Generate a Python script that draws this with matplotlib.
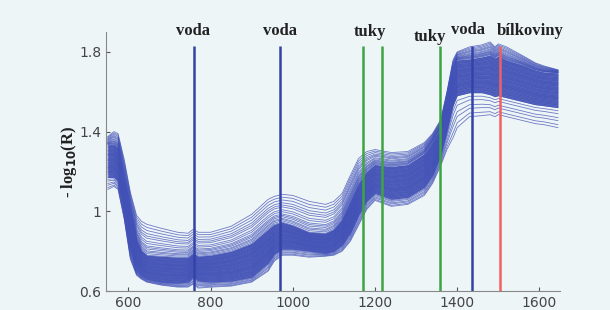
import numpy as np
import matplotlib
matplotlib.use('Agg')
import matplotlib.pyplot as plt

# vlnove delky (nm) a ctyri odectene krivky: nejnizsi, spodek a vrsek husteho pasu, nejvyssi
lam = [550, 565, 575, 590, 605, 620, 632, 645, 680, 720, 745, 758, 770, 800, 850, 900,
       940, 955, 975, 1000, 1040, 1080, 1100, 1120, 1140, 1160, 1180, 1200, 1240, 1280,
       1320, 1340, 1360, 1375, 1390, 1400, 1430, 1460, 1480, 1492, 1500, 1520, 1560,
       1590, 1610, 1645]

spec_top = [1.375, 1.40, 1.39, 1.26, 1.095, 0.98, 0.95, 0.935, 0.915, 0.895, 0.89, 0.91,
            0.895, 0.895, 0.925, 0.985, 1.06, 1.075, 1.085, 1.08, 1.05, 1.035, 1.05, 1.09,
            1.18, 1.265, 1.30, 1.31, 1.295, 1.30, 1.345, 1.39, 1.46, 1.60, 1.76, 1.80,
            1.825, 1.835, 1.85, 1.825, 1.84, 1.825, 1.78, 1.745, 1.73, 1.71]

spec_core_hi = [1.335, 1.335, 1.32, 1.15, 1.00, 0.86, 0.805, 0.78, 0.775, 0.77, 0.77, 0.79,
                0.775, 0.78, 0.80, 0.84, 0.91, 0.935, 0.945, 0.93, 0.895, 0.89, 0.91, 0.96,
                1.05, 1.14, 1.20, 1.235, 1.225, 1.235, 1.29, 1.35, 1.42, 1.55, 1.70, 1.76,
                1.765, 1.775, 1.785, 1.77, 1.78, 1.76, 1.735, 1.71, 1.70, 1.695]

spec_core_lo = [1.17, 1.17, 1.15, 1.00, 0.80, 0.70, 0.675, 0.66, 0.645, 0.64, 0.645, 0.67,
                0.65, 0.645, 0.65, 0.67, 0.74, 0.785, 0.81, 0.81, 0.80, 0.79, 0.80, 0.83,
                0.89, 0.98, 1.05, 1.09, 1.06, 1.07, 1.12, 1.18, 1.28, 1.40, 1.53, 1.58,
                1.595, 1.595, 1.585, 1.575, 1.58, 1.57, 1.55, 1.535, 1.53, 1.52]

spec_bottom = [1.11, 1.125, 1.11, 0.96, 0.76, 0.68, 0.66, 0.645, 0.63, 0.62, 0.62, 0.635,
               0.615, 0.62, 0.625, 0.645, 0.70, 0.75, 0.78, 0.78, 0.77, 0.775, 0.78, 0.80,
               0.85, 0.93, 1.01, 1.055, 1.025, 1.035, 1.08, 1.14, 1.23, 1.31, 1.37, 1.42,
               1.475, 1.48, 1.485, 1.475, 1.485, 1.475, 1.455, 1.44, 1.435, 1.42]

# poloha kazdeho spektra mezi odectenymi krivkami (0 = nejnizsi ... 3 = nejvyssi)
levels = [0.0, 0.15, 0.35, 0.5, 0.7, 0.85,
          1.0, 1.04, 1.08, 1.11, 1.15, 1.18, 1.22, 1.25, 1.28, 1.3, 1.33, 1.36, 1.4,
          1.43, 1.46, 1.5, 1.52, 1.55, 1.58, 1.62, 1.65, 1.68, 1.7, 1.73, 1.77, 1.8,
          1.83, 1.86, 1.9, 1.93, 1.96, 2.0,
          2.05, 2.1, 2.14, 2.2, 2.25, 2.3, 2.38, 2.45, 2.55, 2.62, 2.7, 2.8, 2.9, 3.0]

# absorpcni pasy
band_pos = [760, 970, 1170, 1218, 1357, 1437, 1503]
band_col = ['#3343a8', '#3343a8', '#3ea443', '#3ea443', '#3ea443', '#3343a8', '#f26060']
lab_text = ['voda', 'voda', 'tuky', 'tuky', 'voda', 'bílkoviny']
lab_x = [758, 970, 1189, 1335, 1427, 1578]
lab_y = [1.905, 1.905, 1.90, 1.875, 1.91, 1.905]

bg = '#eef5f7'
line_col = '#4151b6'

fig = plt.figure(figsize=(6.1, 3.1), dpi=100, facecolor=bg)
ax = fig.add_axes([0.174, 0.061, 0.744, 0.836], facecolor=bg)

anchors = np.array([spec_bottom, spec_core_lo, spec_core_hi, spec_top])
ax.fill_between(lam, spec_core_lo, spec_core_hi, color=line_col, alpha=0.85, lw=0)
for lev in levels:
    i = min(int(lev), 2)
    f = lev - i
    curve = anchors[i] * (1 - f) + anchors[i + 1] * f
    ax.plot(lam, curve, color=line_col, lw=0.6, alpha=0.75)

ax.vlines(band_pos, 0.6, 1.83, colors=band_col, lw=1.8)

for t, x, y in zip(lab_text, lab_x, lab_y):
    ax.text(x, y, t, ha='center', va='center', fontsize=12, fontweight='bold',
            family=['Liberation Serif', 'DejaVu Serif'], color='#222222', clip_on=False)

ax.set_xlim(546, 1650)
ax.set_ylim(0.6, 1.9)
ax.set_xticks([600, 800, 1000, 1200, 1400, 1600])
ax.set_yticks([0.6, 1.0, 1.4, 1.8])
ax.set_yticklabels(['0.6', '1', '1.4', '1.8'])
ax.tick_params(direction='in', length=3, labelsize=10, colors='#555555', labelcolor='#444444')

for s in ['top', 'right']:
    ax.spines[s].set_visible(False)
for s in ['left', 'bottom']:
    ax.spines[s].set_color('#888888')
    ax.spines[s].set_linewidth(0.8)

plt.rcParams['mathtext.fontset'] = 'stix'
ax.set_ylabel(r'- log$_{\mathbf{10}}$(R)', fontsize=12, fontweight='bold',
              family=['Liberation Serif', 'DejaVu Serif'], color='#222222', labelpad=0)

fig.savefig('out.png', dpi=100, facecolor=bg)
